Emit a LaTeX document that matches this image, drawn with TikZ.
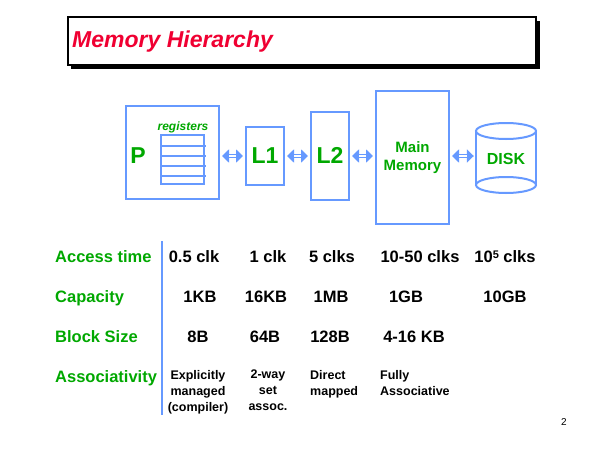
\documentclass[tikz,border=0pt]{standalone}
\usepackage{fontspec}
\setmainfont{Liberation Sans}
\usetikzlibrary{arrows.meta}
\definecolor{hgreen}{RGB}{0,168,0}
\definecolor{hblue}{RGB}{102,153,255}
\definecolor{hred}{RGB}{240,0,50}
\tikzset{
  box/.style={draw=hblue, line width=2pt, inner sep=0pt},
  boxlbl/.style={text=hgreen, font=\bfseries\fontsize{23}{26}\selectfont},
  link/.style={hblue, line width=4.5pt, {Triangle[length=7pt,width=13pt]}-{Triangle[length=7pt,width=13pt]}, shorten <=2pt, shorten >=2pt},
  linkcore/.style={white, line width=1.4pt, shorten <=9pt, shorten >=9pt},
  rowlbl/.style={anchor=base west, text=hgreen, font=\bfseries\fontsize{16.5}{19}\selectfont, inner sep=0pt},
  val/.style={anchor=base, font=\bfseries\fontsize{16.5}{19}\selectfont, inner sep=0pt},
  small/.style={font=\bfseries\fontsize{12.5}{16}\selectfont, inner sep=0pt, align=center},
}
\begin{document}
\begin{tikzpicture}[x=1pt,y=-1pt]
\useasboundingbox[fill=white] (0,0) rectangle (600,450);
% title
\fill[black] (71,21) rectangle (540,69);
\node[draw=black, line width=1.5pt, fill=white, minimum width=468pt, minimum height=48pt, inner sep=0pt, anchor=north west] (title) at (67,16) {};
\node[anchor=base west, text=hred, font=\bfseries\itshape\fontsize{23}{26}\selectfont, inner sep=0pt] (titletext) at (72,47.5) {Memory Hierarchy};
% P box
\node[box, minimum width=93pt, minimum height=93pt] (P) at (172.5,152.5) {};
\node[boxlbl] (Plbl) at (138,156) {P};
\node[draw=hblue, line width=2pt, minimum width=43pt, minimum height=49pt, inner sep=0pt] (regs) at (182.5,159.5) {};
\foreach \yy in {146,156,166,176} \draw[hblue, line width=2pt] (regs.west |- 0,\yy) -- (206,\yy);
\node[text=hgreen, font=\bfseries\itshape\fontsize{12}{14}\selectfont, inner sep=0pt] (reglbl) at (183,127) {registers};
% L1, L2
\node[box, minimum width=38pt, minimum height=58pt, boxlbl] (L1) at (265,155.5) {L1};
\node[box, minimum width=38pt, minimum height=88pt, boxlbl] (L2) at (330,155.5) {L2};
% Main memory
\node[box, minimum width=73pt, minimum height=133pt, text=hgreen, align=center, font=\bfseries\fontsize{15}{18.5}\selectfont] (MM) at (412.5,157.5) {Main\\Memory};
% Disk
\node[minimum width=60pt, minimum height=70pt, inner sep=0pt, text=hgreen, font=\bfseries\fontsize{16}{19}\selectfont] (disk) at (506,159) {DISK};
\draw[hblue, line width=2pt] (476,131) -- (476,185) (536,131) -- (536,185);
\draw[hblue, line width=2pt] (506,131) ellipse (30 and 8);
\draw[hblue, line width=2pt] (506,185) ellipse (30 and 8);
% arrows
\foreach \a/\b in {P/L1, L1/L2, L2/MM, MM/disk}{
  \draw[link] (\a.east |- 0,156) -- (\b.west |- 0,156);
  \draw[linkcore] (\a.east |- 0,156) -- (\b.west |- 0,156);
}
% table
\draw[hblue, line width=1.2pt] (162,241) -- (162,415);
\node[rowlbl] (r1) at (55,262) {Access time};
\node[rowlbl] (r2) at (55,302) {Capacity};
\node[rowlbl] (r3) at (55,342) {Block Size};
\node[rowlbl] (r4) at (55,382) {Associativity};
\node[val] (a1) at (194,262) {0.5 clk};
\node[val] (a2) at (268,262) {1 clk};
\node[val] (a3) at (332,262) {5 clks};
\node[val] (a4) at (420,262) {10-50 clks};
\node[val] (a5) at (505,262) {10\raisebox{4pt}{\fontsize{11}{11}\selectfont 5} clks};
\node[val] (c1) at (200,302) {1KB};
\node[val] (c2) at (266,302) {16KB};
\node[val] (c3) at (331,302) {1MB};
\node[val] (c4) at (406,302) {1GB};
\node[val] (c5) at (505,302) {10GB};
\node[val] (b1) at (198,342) {8B};
\node[val] (b2) at (265,342) {64B};
\node[val] (b3) at (330,342) {128B};
\node[val] (b4) at (414,342) {4-16 KB};
\node[small, anchor=north] (s1) at (198,370) {Explicitly\\managed\\(compiler)};
\node[small, anchor=north] (s2) at (268,370) {2-way\\set\\assoc.};
\node[small, anchor=north west, align=left] (s3) at (310,370) {Direct\\mapped};
\node[small, anchor=north west, align=left] (s4) at (380,370) {Fully\\Associative};
\node[font=\fontsize{10}{12}\selectfont, inner sep=0pt] (pg) at (564,422) {2};
\end{tikzpicture}
\end{document}
